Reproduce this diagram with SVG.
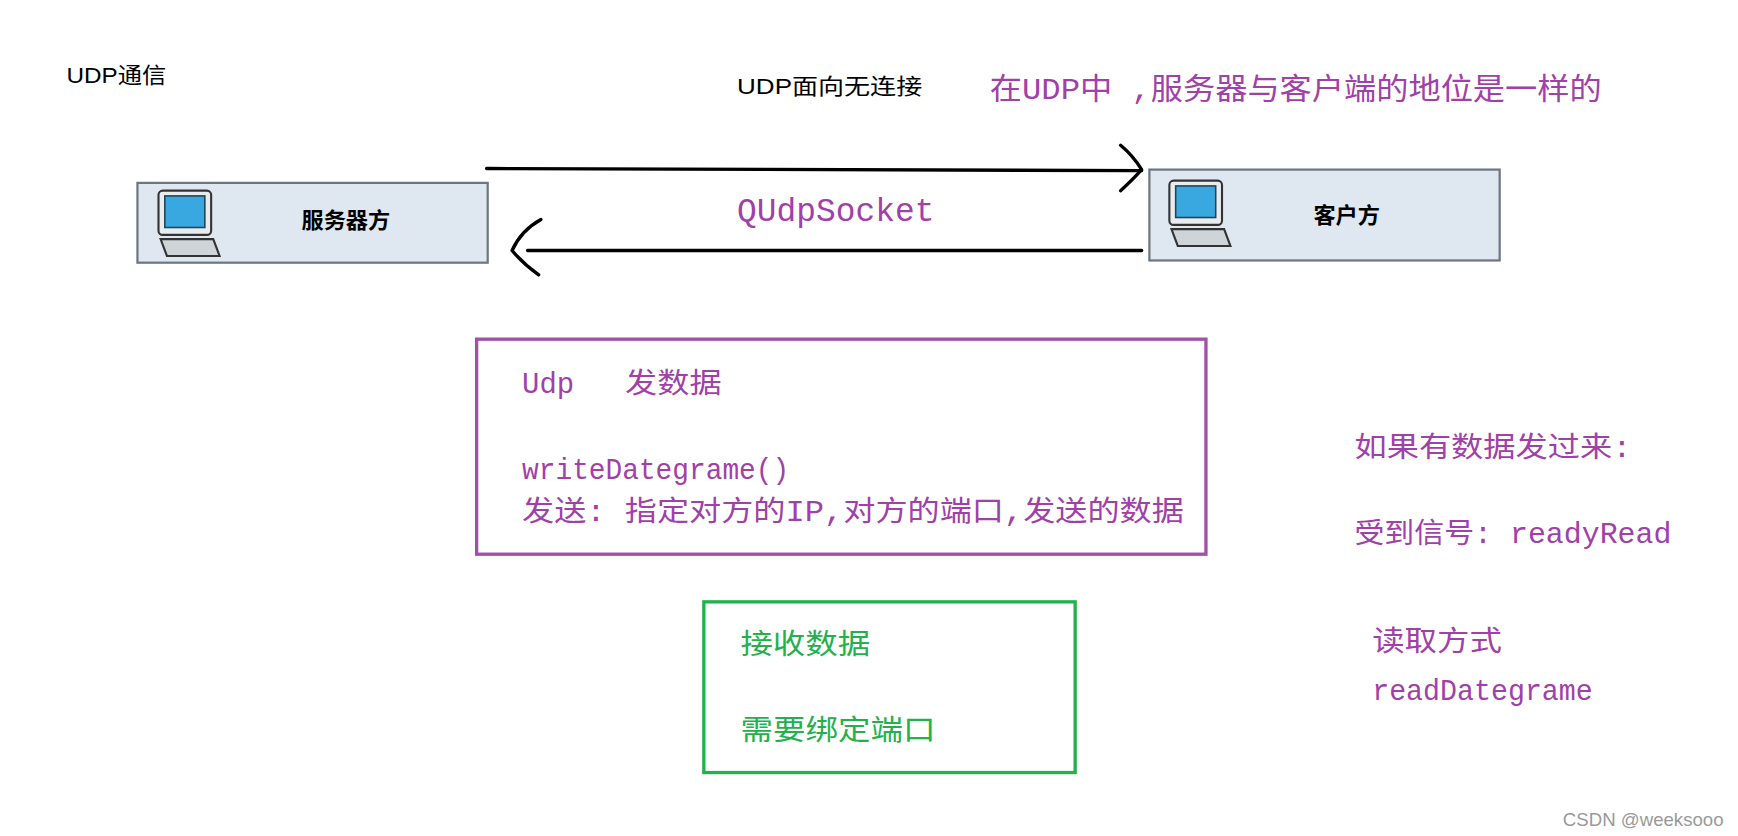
<svg xmlns="http://www.w3.org/2000/svg" width="1738" height="836" viewBox="0 0 1738 836">
<style>
.k{font-family:"Liberation Sans","Noto Sans CJK SC",sans-serif;fill:#000}
.p{font-family:"Liberation Mono","Noto Sans CJK SC",monospace;fill:#a040a8}
.g{font-family:"Liberation Mono","Noto Sans CJK SC",monospace;fill:#22b14c}
.box{fill:#dfe7f0;stroke:#6e7680;stroke-width:2}
.ln{stroke:#000;stroke-width:3;fill:none;stroke-linecap:round;stroke-linejoin:round}
</style>
<defs>
<g id="pc">
<rect x="0" y="0" width="50" height="42" rx="4" fill="#e8ecef" stroke="#333" stroke-width="2"/>
<rect x="6" y="5" width="38" height="30" fill="#3aa8e0" stroke="#245" stroke-width="1.5"/>
<path d="M2 46 L52 46 L58 62 L8 62 Z" fill="#cfd4d8" stroke="#333" stroke-width="2"/>
</g>
</defs>
<rect width="1738" height="836" fill="#fff"/>
<g transform="scale(1.1084)">
<g id="labels">
<text class="k" x="60" y="75" font-size="20" textLength="90" lengthAdjust="spacingAndGlyphs">UDP通信</text>
<text class="k" x="665" y="85" font-size="20" textLength="167" lengthAdjust="spacingAndGlyphs">UDP面向无连接</text>
<text class="p" x="893" y="89" font-size="27" textLength="552" lengthAdjust="spacingAndGlyphs">在UDP中 ,服务器与客户端的地位是一样的</text>
<text class="p" x="665" y="199" font-size="30" textLength="178" lengthAdjust="spacingAndGlyphs">QUdpSocket</text>
</g>
<g id="server">
<rect class="box" x="124" y="165" width="316" height="72"/>
<use href="#pc" transform="translate(143,172) scale(0.95)"/>
<text class="k" x="312" y="206" font-size="20" font-weight="bold" text-anchor="middle">服务器方</text>
</g>
<g id="client">
<rect class="box" x="1037" y="153" width="316" height="82"/>
<use href="#pc" transform="translate(1055,163) scale(0.95)"/>
<text class="k" x="1215" y="201" font-size="20" font-weight="bold" text-anchor="middle">客户方</text>
</g>
<g id="connectors">
<path class="ln" d="M439 152 L1030 154"/>
<path class="ln" d="M1011 131 Q1022 140 1030 153 Q1022 162 1011 172"/>
<path class="ln" d="M1030 226 L476 226"/>
<path class="ln" d="M488 198 Q470 208 462 226 Q472 238 486 248"/>
</g>
<g id="send">
<rect x="430" y="306" width="658" height="194" fill="none" stroke="#a050a8" stroke-width="3"/>
<text class="p" x="471" y="355" font-size="26" textLength="47" lengthAdjust="spacingAndGlyphs">Udp</text>
<text class="p" x="564" y="355" font-size="26" textLength="87" lengthAdjust="spacingAndGlyphs">发数据</text>
<text class="p" x="471" y="432" font-size="26" textLength="241" lengthAdjust="spacingAndGlyphs">writeDategrame()</text>
<text class="p" x="471" y="470" font-size="26" textLength="597" lengthAdjust="spacingAndGlyphs">发送: 指定对方的IP,对方的端口,发送的数据</text>
</g>
<g id="recv">
<rect x="635" y="543" width="335" height="154" fill="none" stroke="#22b14c" stroke-width="3"/>
<text class="g" x="668" y="590" font-size="26" textLength="117" lengthAdjust="spacingAndGlyphs">接收数据</text>
<text class="g" x="668" y="668" font-size="26" textLength="176" lengthAdjust="spacingAndGlyphs">需要绑定端口</text>
</g>
<g id="notes">
<text class="p" x="1222" y="412" font-size="26" textLength="250" lengthAdjust="spacingAndGlyphs">如果有数据发过来:</text>
<text class="p" x="1222" y="490" font-size="26" textLength="286" lengthAdjust="spacingAndGlyphs">受到信号: readyRead</text>
<text class="p" x="1238" y="587" font-size="26" textLength="117" lengthAdjust="spacingAndGlyphs">读取方式</text>
<text class="p" x="1238" y="632" font-size="26" textLength="199" lengthAdjust="spacingAndGlyphs">readDategrame</text>
<text x="1410" y="745" font-size="16" fill="#999" font-family="Liberation Sans,sans-serif" textLength="145" lengthAdjust="spacingAndGlyphs">CSDN @weeksooo</text>
</g>
</g>
</svg>
